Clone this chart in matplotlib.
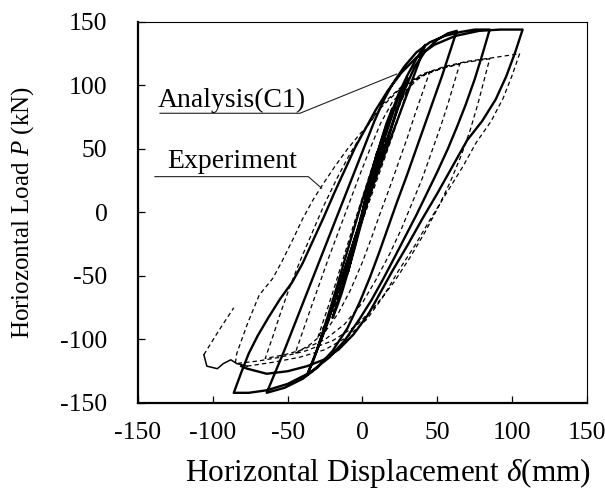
import numpy as np
import matplotlib.pyplot as plt

plt.rcParams['font.family'] = ['Liberation Serif', 'DejaVu Serif']
plt.rcParams['mathtext.fontset'] = 'custom'
plt.rcParams['mathtext.rm'] = 'Liberation Serif'
plt.rcParams['mathtext.it'] = 'Liberation Serif:italic'
plt.rcParams['axes.unicode_minus'] = False

# analysis (C1): displacement (mm) and horizontal load (kN), full cyclic path
ana_disp = [0, 3, 6, 10,
            7, 3, -1, -5, -8, -10,
            -6, -2, 3, 8, 12, 16, 20,
            15, 10, 5, 0, -5, -10, -14, -17, -20,
            -14, -8, -2, 4, 10, 16, 22, 26, 30,
            25, 20, 14, 8, 2, -4, -10, -16, -21, -26, -30,
            -24, -18, -12, -6, 0, 6, 12, 18, 24, 30, 36, 42,
            37, 31, 25, 19, 13, 7, 1, -5, -11, -17, -23, -29, -33, -37,
            -31, -25, -19, -13, -7, -1, 5, 11, 17, 23, 29, 35, 42, 50, 57, 63,
            58, 53, 47, 41, 35, 29, 23, 17, 11, 5, -2, -10, -20, -30, -40, -52, -64,
            -58, -52, -46, -40, -34, -28, -22, -16, -10, -4, 2, 8, 14, 20, 28, 36, 45, 55, 65, 75, 85,
            80, 75, 69, 63, 57, 50, 43, 36, 29, 22, 14, 6, -2, -12, -22, -35, -50, -64, -76, -86,
            -81, -76, -70, -63, -55, -47, -40, -33, -26, -19, -12, -5, 2, 9, 17, 26, 36, 48, 62, 78, 92, 107,
            102, 96, 89, 80, 70, 60, 50, 40, 30, 20, 12, 4, -6, -16, -26, -37, -50, -64, -77, -81]
ana_load = [0, 16, 31, 48,
            34, 15, -5, -25, -39, -48,
            -29, -9, 15, 38, 55, 70, 82,
            61, 39, 17, -5, -27, -48, -64, -74, -83,
            -60, -35, -10, 16, 41, 63, 84, 97, 106,
            88, 70, 49, 28, 6, -16, -38, -60, -78, -95, -107,
            -85, -62, -38, -14, 10, 32, 54, 74, 93, 108, 121, 132,
            116, 97, 78, 59, 40, 21, 1, -20, -42, -64, -86, -104, -117, -128,
            -110, -90, -70, -50, -29, -8, 14, 36, 58, 80, 99, 115, 127, 136, 141, 143,
            125, 107, 87, 67, 47, 27, 8, -12, -32, -51, -71, -91, -109, -122, -131, -138, -142,
            -125, -108, -90, -72, -54, -36, -18, 0, 18, 36, 54, 72, 88, 101, 115, 126, 134, 139, 142, 144, 144,
            124, 105, 85, 67, 50, 32, 15, -2, -18, -34, -52, -69, -84, -101, -114, -126, -135, -140, -142, -142,
            -126, -111, -97, -83, -68, -55, -40, -22, -4, 15, 33, 51, 66, 81, 96, 110, 122, 132, 139, 143, 144, 144,
            126, 107, 89, 72, 57, 36, 15, -5, -26, -46, -63, -80, -96, -108, -116, -121, -125, -127, -123, -121]

# experiment: measured hysteresis up to the last negative excursion
exp_disp = [0, 4, 8, 10,
            6, 2, -2, -6, -10,
            -5, 0, 5, 10, 15, 20,
            14, 8, 2, -4, -10, -15, -20,
            -14, -8, -2, 4, 10, 16, 22, 26, 30,
            25, 20, 14, 8, 2, -4, -10, -16, -22, -26, -30,
            -24, -18, -12, -6, 0, 6, 12, 18, 24, 30, 37, 45,
            40, 35, 30, 24, 18, 12, 6, 0, -8, -16, -25, -35, -45,
            -40, -35, -29, -23, -16, -9, -2, 5, 12, 20, 30, 42, 54, 65,
            61, 57, 52, 46, 40, 33, 26, 18, 9, 0, -12, -25, -40, -52, -65,
            -60, -55, -49, -42, -34, -26, -17, -8, 2, 12, 24, 38, 52, 68, 85,
            81, 77, 72, 66, 59, 51, 42, 32, 21, 9, -4, -20, -38, -55, -70, -85,
            -84, -77, -69, -60, -54, -46, -40, -33, -26, -18, -10, -3, 3, 14, 26, 40, 55, 70, 88, 105,
            100, 94, 86, 76, 67, 56, 45, 35, 24, 14, 3, -10, -25, -42, -60, -77]
exp_load = [0, 18, 35, 43,
            26, 8, -10, -27, -43,
            -20, 3, 25, 45, 62, 77,
            54, 30, 6, -18, -42, -61, -78,
            -55, -32, -9, 15, 38, 58, 76, 88, 97,
            78, 60, 40, 20, 0, -20, -40, -60, -78, -90, -99,
            -78, -56, -33, -10, 12, 34, 55, 72, 86, 97, 105, 111,
            94, 77, 59, 39, 19, 0, -20, -39, -61, -79, -94, -104, -111,
            -94, -77, -57, -37, -15, 7, 29, 50, 70, 87, 100, 109, 114, 117,
            101, 85, 67, 47, 27, 7, -13, -33, -53, -71, -88, -100, -108, -112, -115,
            -98, -80, -60, -39, -17, 5, 27, 47, 66, 82, 96, 107, 113, 118, 121,
            103, 85, 65, 45, 25, 5, -15, -35, -55, -73, -89, -101, -109, -114, -117, -119,
            -111, -88, -65, -52, -39, -20, -5, 10, 23, 37, 50, 60, 68, 86, 99, 109, 115, 119, 122, 125,
            108, 90, 72, 55, 36, 15, -6, -26, -46, -66, -84, -98, -108, -114, -118, -121]

# experiment: noisy trace near failure and final partial reloading
exp_fail_disp = [-77, -84, -88, -93, -97, -104, -106]
exp_fail_load = [-121, -119, -116, -119, -123, -121, -112]
exp_last_disp = [-106, -96, -86]
exp_last_load = [-112, -93, -75]

fig = plt.figure(figsize=(6.05, 4.9), dpi=100)
ax = fig.add_axes([0.2281, 0.1776, 0.7421, 0.7776])

ax.plot(exp_disp, exp_load, color='black', lw=0.9, ls=(0, (3.5, 2.5)))
ax.plot(exp_fail_disp, exp_fail_load, color='black', lw=1.1)
ax.plot(exp_last_disp, exp_last_load, color='black', lw=0.9, ls=(0, (3.5, 2.5)))
ax.plot(ana_disp, ana_load, color='black', lw=1.7, solid_joinstyle='round')

# labels with leader lines
ax.text(-136.6, 83, 'Analysis(C1)', fontsize=20, va='baseline', ha='left')
ax.plot([-135.3, -41.8, 22.9], [78.1, 78.1, 109], color='#222222', lw=0.8)
ax.text(-130.8, 35, 'Experiment', fontsize=20, va='baseline', ha='left')
ax.plot([-138.7, -36.2, -27.3], [28.2, 28.2, 19.1], color='#222222', lw=0.8)

ax.set_xlim(-150, 150)
ax.set_ylim(-150, 150)
ax.set_xticks(np.arange(-150, 151, 50))
ax.set_yticks(np.arange(-150, 151, 50))
ax.tick_params(direction='in', length=5, width=0.9, labelsize=18.5)
ax.tick_params(axis='x', pad=14)
ax.tick_params(axis='y', pad=22)

ax.spines['left'].set_linewidth(1.6)
ax.spines['bottom'].set_linewidth(1.6)
ax.spines['top'].set_linewidth(0.8)
ax.spines['right'].set_linewidth(0.8)

ax.set_xlabel(r'Horizontal Displacement $\delta$(mm)', fontsize=22.5)
ax.set_ylabel(r'Horiozontal Load $P$ (kN)', fontsize=18)
ax.xaxis.set_label_coords(0.557, -0.14)
ax.yaxis.set_label_coords(-0.228, 0.5)

fig.savefig('out.png', dpi=100)
